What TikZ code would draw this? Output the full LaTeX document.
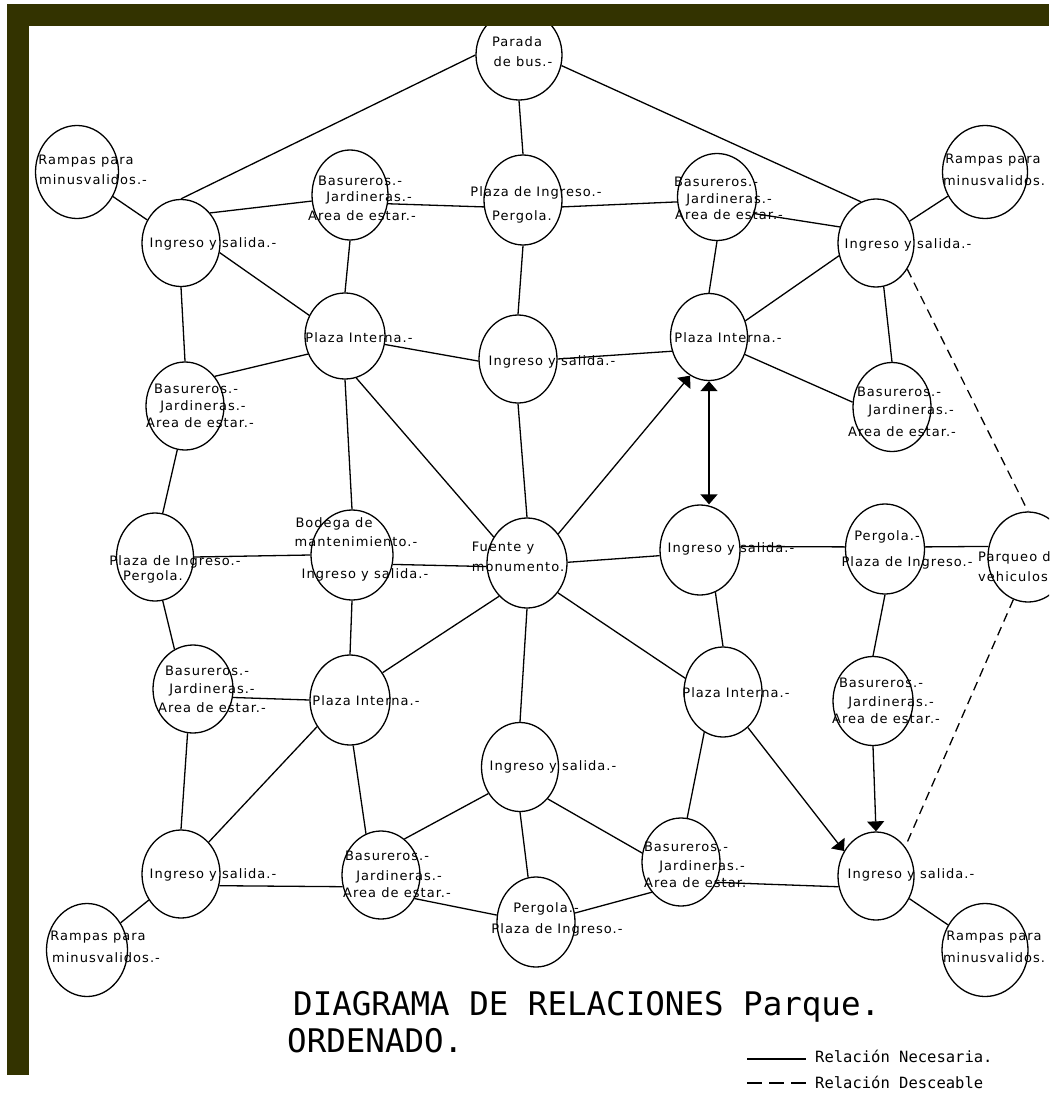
\documentclass[tikz,border=0pt]{standalone}
\usepackage{fontspec}
\usetikzlibrary{shapes.geometric,arrows.meta}
\newfontfamily\nodefont[LetterSpace=8]{DejaVu Sans}
\newfontfamily\titlefont{DejaVu Sans Mono}
\definecolor{frameolive}{HTML}{333300}
\begin{document}
\begin{tikzpicture}[x=1pt,y=-1pt,
  bub/.style={draw, ellipse, inner sep=0pt, minimum width=79pt, minimum height=89pt, line width=1.3pt},
  lbl/.style={inner sep=0pt, font=\nodefont\fontsize{13}{15}\selectfont},
  rel/.style={line width=1.3pt},
  des/.style={line width=1.3pt, dash pattern=on 9pt off 6pt},
  tip/.style={-{Triangle[length=10pt,width=17pt]}},
  tips/.style={{Triangle[length=10pt,width=17pt]}-{Triangle[length=10pt,width=17pt]}},
  ttl/.style={inner sep=0pt, anchor=base west, font=\titlefont\fontsize{32.5}{34}\selectfont},
  leg/.style={inner sep=0pt, anchor=base west, font=\titlefont\fontsize{15.5}{17}\selectfont}]
\useasboundingbox (0,0) rectangle (1049,1094);
\clip (0,0) rectangle (1049,1094);
\fill[white] (0,0) rectangle (1049,1094);

% ---------- bubbles ----------
\node[bub, minimum width=86pt, minimum height=90pt] (parada) at (519,55) {};
\node[bub, minimum width=78pt, minimum height=90pt] (piT) at (523,200) {};
\node[bub, minimum width=76pt, minimum height=90pt] (basTL) at (350,195) {};
\node[bub, minimum width=79pt, minimum height=87pt] (basTR) at (717,197) {};
\node[bub, minimum width=83pt, minimum height=93pt] (ramTL) at (77,172) {};
\node[bub, minimum width=85pt, minimum height=93pt] (ramTR) at (985,172) {};
\node[bub, minimum width=78pt, minimum height=87pt] (iTL) at (181,243) {};
\node[bub, minimum width=76pt, minimum height=88pt] (iTR) at (876,243) {};
\node[bub, minimum width=80pt, minimum height=86pt] (pinTL) at (345,336) {};
\node[bub, minimum width=78pt, minimum height=88pt] (iCT) at (518,359) {};
\node[bub, minimum width=77pt, minimum height=87pt] (pinTR) at (709,337) {};
\node[bub, minimum width=78pt, minimum height=88pt] (basL) at (185,406) {};
\node[bub, minimum width=78pt, minimum height=89pt] (basR) at (892,407) {};
\node[bub, minimum width=77pt, minimum height=88pt] (piL) at (155,557) {};
\node[bub, minimum width=82pt, minimum height=90pt] (bod) at (352,555) {};
\node[bub, minimum width=80pt, minimum height=90pt] (fuente) at (527,563) {};
\node[bub, minimum width=80pt, minimum height=90pt] (iMR) at (700,550) {};
\node[bub, minimum width=79pt, minimum height=90pt] (perR) at (885,549) {};
\node[bub, minimum width=80pt, minimum height=90pt] (parq) at (1028,557) {};
\node[bub, minimum width=80pt, minimum height=88pt] (basLL) at (193,689) {};
\node[bub, minimum width=80pt, minimum height=90pt] (pinLL) at (350,700) {};
\node[bub, minimum width=77pt, minimum height=89pt] (iCL) at (520,767) {};
\node[bub, minimum width=78pt, minimum height=90pt] (pinRL) at (723,692) {};
\node[bub, minimum width=80pt, minimum height=89pt] (basRL) at (873,701) {};
\node[bub, minimum width=78pt, minimum height=88pt] (iBL) at (181,874) {};
\node[bub, minimum width=78pt, minimum height=88pt] (basBCL) at (381,875) {};
\node[bub, minimum width=78pt, minimum height=88pt] (basBCR) at (681,862) {};
\node[bub, minimum width=78pt, minimum height=90pt] (perB) at (536,922) {};
\node[bub, minimum width=76pt, minimum height=88pt] (iBR) at (876,876) {};
\node[bub, minimum width=81pt, minimum height=93pt] (ramBL) at (87,950) {};
\node[bub, minimum width=86pt, minimum height=93pt] (ramBR) at (985,950) {};

% ---------- connectors ----------
\draw[rel] (parada.west) -- (iTL.north);
\draw[rel] (parada.-14) -- (iTR.110);
\draw[rel] (parada.south) -- (piT.north);
\draw[rel] (ramTL) -- (iTL);
\draw[rel] (ramTR) -- (iTR);
\draw[rel] (iTL.46) -- (basTL.189);
\draw[rel] (basTL.-13) -- (piT.190);
\draw[rel] (piT.-10) -- (basTR.187);
\draw[rel] (basTR.-24) -- (iTR.156);
\draw[rel] (iTL.-14) -- (pinTL.150);
\draw[rel] (basTL.south) -- (pinTL.north);
\draw[rel] (piT.south) -- (iCT.north);
\draw[rel] (basTR.south) -- (pinTR.north);
\draw[rel] (pinTR.24) -- (iTR.199);
\draw[rel] (iTR.-80) -- (basR.north);
\draw[des] (iTR.-40) -- (parq.north);
\draw[rel] (iTL.south) -- (basL.north);
\draw[rel] (pinTL.206) -- (basL.45);
\draw[rel] (pinTL.-12) -- (iCT.183);
\draw[rel] (iCT.0) -- (pinTR.201);
\draw[rel] (pinTR.-26) -- (basR.173);
\draw[rel] (pinTL.south) -- (bod.north);
\draw[rel] (pinTL.-75) -- (fuente.142);
\draw[rel] (iCT.south) -- (fuente.north);
\draw[rel, tip] (fuente.43) -- (pinTR.244);
\draw[rel, tips] (pinTR.south) -- (pinTR.south |- iMR.north);
\draw[rel] (basL.-100) -- (piL.80);
\draw[rel] (piL.east) -- (bod.west);
\draw[rel] (bod.-13) -- (fuente.185);
\draw[rel] (fuente.1) -- (iMR.188);
\draw[rel] (iMR.5) -- (perR.177);
\draw[rel] (perR.3) -- (parq.165);
\draw[rel] (perR.south) -- (basRL.north);
\draw[rel] (iMR.-70) -- (pinRL.north);
\draw[rel] (piL.-80) -- (basLL.115);
\draw[rel] (bod.south) -- (pinLL.north);
\draw[rel] (fuente.230) -- (pinLL.40);
\draw[rel] (fuente.south) -- (iCL.north);
\draw[rel] (fuente.-44) -- (pinRL.160);
\draw[rel] (basLL.-12) -- (pinLL.west);
\draw[rel] (basLL.-97) -- (iBL.north);
\draw[rel] (pinLL.219) -- (iBL.49);
\draw[rel] (pinLL.-86) -- (basBCL.110);
\draw[rel] (iCL.220) -- (basBCL.57);
\draw[rel] (iCL.south) -- (perB.100);
\draw[rel] (iCL.-49) -- (basBCR.167);
\draw[rel] (pinRL.245) -- (basBCR.82);
\draw[rel, tip] (pinRL.-55) -- (iBR.142);
\draw[rel, tip] (basRL.south) -- (iBR.north);
\draw[des] (parq.251) -- (iBR.45);
\draw[rel] (iBL) -- (ramBL);
\draw[rel] (iBL.-17) -- (basBCL.197);
\draw[rel] (basBCL.-35) -- (perB.170);
\draw[rel] (perB.13) -- (basBCR.226);
\draw[rel] (basBCR.-30) -- (iBR.196);
\draw[rel] (iBR) -- (ramBR);

% ---------- texts ----------
\node[lbl] (tpar1) at (517,42) {Parada};
\node[lbl] (tpar2) at (523,62) {de bus.-};
\node[lbl] (tpiT1) at (536,193) {Plaza de Ingreso.-};
\node[lbl] (tpiT2) at (522,217) {Pergola.};
\foreach \n/\a/\b/\c/\d/\e/\f in {basTL/360/181/369/198/362/216, basTR/716/182/729/200/729/215, basL/196/389/203/407/200/423, basR/899/392/911/411/902/432, basLL/207/671/212/690/212/708, basRL/881/683/891/703/886/719, basBCL/387/856/399/877/397/893, basBCR/686/847/702/867/698/883}{
  \node[lbl] (t\n1) at (\a,\b) {Basureros.-};
  \node[lbl] (t\n2) at (\c,\d) {Jardineras.-};
  \node[lbl] (t\n3) at (\e,\f) {Area de estar.-};
}
\foreach \n/\a/\b in {iTL/213/244, iTR/908/245, iCT/552/362, iMR/731/549, iCL/553/767, iBL/213/875, iBR/911/875}{
  \node[lbl] (t\n) at (\a,\b) {Ingreso y salida.-};
}
\foreach \n/\a/\b in {pinTL/359/338, pinTR/728/338, pinLL/366/701, pinRL/736/693}{
  \node[lbl] (t\n) at (\a,\b) {Plaza Interna.-};
}
\node[lbl] (tbod1) at (334,524) {Bodega de};
\node[lbl] (tbod2) at (356,542) {mantenimiento.-};
\node[lbl] (tbod3) at (365,575) {Ingreso y salida.-};
\node[lbl] (tfue1) at (503,548) {Fuente y};
\node[lbl] (tfue2) at (518,567) {monumento.};
\node[lbl] (tpiL1) at (175,562) {Plaza de Ingreso.-};
\node[lbl] (tpiL2) at (153,577) {Pergola.};
\node[lbl] (tperR1) at (887,537) {Pergola.-};
\node[lbl] (tperR2) at (907,563) {Plaza de Ingreso.-};
\node[lbl, anchor=west] (tparq1) at (978,558) {Parqueo de};
\node[lbl, anchor=west] (tparq2) at (978,577) {vehiculos.-};
\node[lbl] (tperB1) at (546,909) {Pergola.-};
\node[lbl] (tperB2) at (557,930) {Plaza de Ingreso.-};
\node[lbl] (tramTL1) at (86,161) {Rampas para};
\node[lbl] (tramTL2) at (93,180) {minusvalidos.-};
\node[lbl] (tramTR1) at (993,160) {Rampas para};
\node[lbl] (tramTR2) at (994,181) {minusvalidos.};
\node[lbl] (tramBL1) at (98,937) {Rampas para};
\node[lbl] (tramBL2) at (106,958) {minusvalidos.-};
\node[lbl] (tramBR1) at (994,937) {Rampas para};
\node[lbl] (tramBR2) at (994,958) {minusvalidos.};

% ---------- title and legend ----------
\node[ttl] (title1) at (293,1015) {DIAGRAMA DE RELACIONES Parque.};
\node[ttl] (title2) at (287,1052) {ORDENADO.};
\coordinate (l1a) at (747,1059);
\coordinate (l1b) at (806,1059);
\coordinate (l2a) at (747,1083);
\coordinate (l2b) at (806,1083);
\draw[rel] (l1a) -- (l1b);
\draw[line width=1.3pt, dash pattern=on 15pt off 7pt] (l2a) -- (l2b);
\node[leg] (leg1) at (815,1062) {Relación Necesaria.};
\node[leg] (leg2) at (815,1088) {Relación Desceable};

% ---------- frame ----------
\fill[frameolive] (7,4) rectangle (1049,26);
\fill[frameolive] (7,4) rectangle (29,1075);
\end{tikzpicture}
\end{document}
